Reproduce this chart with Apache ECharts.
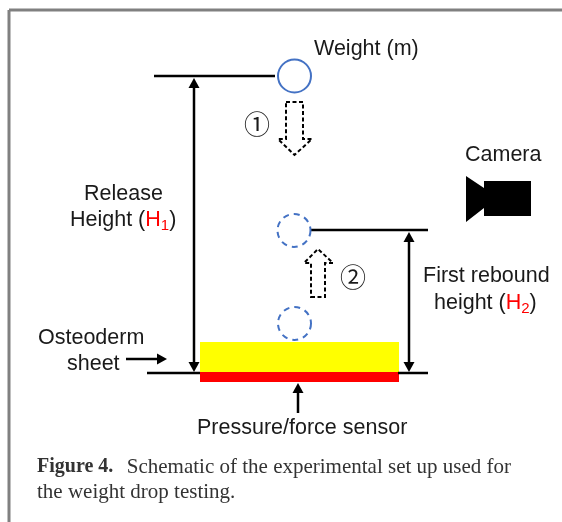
<!DOCTYPE html>
<html>
<head>
<meta charset="utf-8">
<style>
html, body { margin: 0; padding: 0; background: #fff; }
#main { width: 562px; height: 522px; }
</style>
<script src="https://cdn.jsdelivr.net/npm/echarts@6/dist/echarts.min.js"></script>
</head>
<body>
<div id="main"></div>
<script>
var frameLines = [[9, 10, 562, 10], [9, 10, 9, 522]];
var levelLines = [[154, 76, 275, 76], [310, 230, 428, 230], [147, 373, 200, 373], [398, 373, 428, 373]];
// x1, y1, x2, y2: head at the second point
var arrows = [
    [194, 225, 194, 78], [194, 225, 194, 372],
    [409, 300, 409, 232], [409, 300, 409, 372],
    [126, 359, 167, 359],
    [298, 413, 298, 383]
];
var plateRects = [[200, 342, 399, 372, '#ffff00'], [200, 372, 399, 382, '#ff0000']];
// x, y, radius, dashed
var weights = [[294.5, 76, 16.5, 0], [294, 230.5, 16.5, 1], [294.5, 323.5, 16.5, 1]];
var downArrow = [[286, 102], [303, 102], [303, 139], [312, 139], [294.5, 155], [278, 139], [286, 139]];
var upArrow = [[311, 297], [325, 297], [325, 263], [333, 263], [318, 249], [304, 263], [311, 263]];
var cameraBody = [[466, 176], [484, 188], [484, 181], [531, 181], [531, 216], [484, 216], [484, 208], [466, 222]];

var labelTexts = [
    'Weight (m)', 'Release', 'Height ({red|H}{sub|1})', 'Camera', 'First rebound',
    'height ({red|H}{sub|2})', 'Osteoderm', 'sheet', 'Pressure/force sensor'
];
var labelX = [314, 84, 70, 465, 423, 434, 38, 67, 197];
var labelY = [49, 194, 220, 155, 276, 303, 338, 364, 428];
var markTexts = ['①', '②'];
var markX = [244, 340];
var markY = [124, 277];
var captionTexts = ['{bold|Figure 4.}  Schematic of the experimental set up used for', 'the weight drop testing.'];
var captionX = [37, 37];
var captionY = [467, 492];

var textColor = '#1a1a1a';
var subRich = {
    red: { fill: '#ff0000', font: '21.5px "Liberation Sans"' },
    sub: { fill: '#ff0000', font: '15px "Liberation Sans"', verticalAlign: 'bottom', padding: [11, 0, 0, 0] }
};

function rowsSeries(rows, draw) {
    return {
        type: 'custom',
        coordinateSystem: 'cartesian2d',
        clip: false,
        silent: true,
        data: rows.map(function (r, i) { return [i, i]; }),
        encode: { x: 0, y: 1 },
        renderItem: function (params, api) {
            return draw(rows[params.dataIndex], api);
        }
    };
}

function drawLine(color, width) {
    return function (r, api) {
        var a = api.coord([r[0], r[1]]);
        var b = api.coord([r[2], r[3]]);
        return {
            type: 'line',
            shape: { x1: a[0], y1: a[1], x2: b[0], y2: b[1] },
            style: { stroke: color, lineWidth: width, fill: null }
        };
    };
}

function drawArrow(r, api) {
    var a = api.coord([r[0], r[1]]);
    var b = api.coord([r[2], r[3]]);
    var dx = b[0] - a[0], dy = b[1] - a[1];
    var len = Math.sqrt(dx * dx + dy * dy);
    var ux = dx / len, uy = dy / len;
    var bx = b[0] - ux * 10, by = b[1] - uy * 10;
    return {
        type: 'group',
        children: [{
            type: 'line',
            shape: { x1: a[0], y1: a[1], x2: bx, y2: by },
            style: { stroke: '#000', lineWidth: 2.5 }
        }, {
            type: 'polygon',
            shape: { points: [b, [bx - uy * 5.5, by + ux * 5.5], [bx + uy * 5.5, by - ux * 5.5]] },
            style: { fill: '#000' }
        }]
    };
}

function drawRect(r, api) {
    var a = api.coord([r[0], r[1]]);
    var b = api.coord([r[2], r[3]]);
    return {
        type: 'rect',
        shape: { x: a[0], y: a[1], width: b[0] - a[0], height: b[1] - a[1] },
        style: { fill: r[4] }
    };
}

function drawWeight(r, api) {
    var c = api.coord([r[0], r[1]]);
    return {
        type: 'circle',
        shape: { cx: c[0], cy: c[1], r: api.size([r[2], r[2]])[0] },
        style: { fill: null, stroke: '#4472c4', lineWidth: 2, lineDash: r[3] ? [6, 5] : null }
    };
}

function drawPolygon(style) {
    return function (points, api) {
        return {
            type: 'polygon',
            shape: { points: points.map(function (p) { return api.coord(p); }) },
            style: style
        };
    };
}

function textRows(texts, xs, ys) {
    return texts.map(function (t, i) { return [t, xs[i], ys[i]]; });
}

function drawText(font, color, rich) {
    return function (r, api) {
        var p = api.coord([r[1], r[2]]);
        return {
            type: 'text',
            style: {
                text: r[0], x: p[0], y: p[1], font: font, fill: color,
                align: 'left', verticalAlign: 'middle', rich: rich
            }
        };
    };
}

var myChart = echarts.init(document.getElementById('main'));
var option = {
    animation: false,
    backgroundColor: '#fff',
    grid: { left: 0, right: 0, top: 0, bottom: 0 },
    xAxis: { type: 'value', min: 0, max: 562, show: false },
    yAxis: { type: 'value', min: 0, max: 522, inverse: true, show: false },
    series: [
        rowsSeries(frameLines, drawLine('#808080', 3)),
        rowsSeries(plateRects, drawRect),
        rowsSeries(levelLines, drawLine('#000', 2.5)),
        rowsSeries(arrows, drawArrow),
        rowsSeries(weights, drawWeight),
        rowsSeries([downArrow, upArrow], drawPolygon({ fill: null, stroke: '#000', lineWidth: 2, lineDash: [4, 2.5] })),
        rowsSeries([cameraBody], drawPolygon({ fill: '#000' })),
        rowsSeries(textRows(labelTexts, labelX, labelY), drawText('21.5px "Liberation Sans"', textColor, subRich)),
        rowsSeries(textRows(markTexts, markX, markY), drawText('26px "Noto Sans CJK SC"', textColor)),
        rowsSeries(textRows(captionTexts, captionX, captionY), drawText('21px "Liberation Serif"', '#333', {
            bold: { font: 'bold 20px "Liberation Serif"', fill: '#333', padding: [0, 3, 0, 0] }
        }))
    ]
};
myChart.setOption(option);
window.addEventListener('resize', function () {
    myChart.resize();
});
</script>
</body>
</html>
